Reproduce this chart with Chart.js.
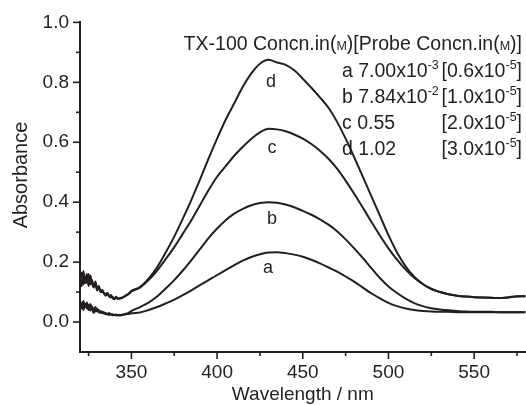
<!DOCTYPE html>
<html>
<head>
<meta charset="utf-8">
<script src="https://cdn.jsdelivr.net/npm/chart.js@4.4.1/dist/chart.umd.min.js"></script>
<style>
body { margin: 0; background: #fff; }
</style>
</head>
<body>
<canvas id="spectra" width="526" height="405"></canvas>
<script>
// wavelength grid (nm): 1 nm steps in the noisy region, then 5 nm
var wavelengths = [320,321,322,323,324,325,326,327,328,329,330,331,332,333,334,335,336,337,338,339,340,
	341,342,343,344,345,346,347,348,349,350,
	355,360,365,370,375,380,385,390,395,400,405,410,415,420,425,430,435,440,445,450,
	455,460,465,470,475,480,485,490,495,500,505,510,515,520,525,530,535,540,545,550,
	555,560,565,570,575,580];

// absorbance
var absA = [0.05,0.065,0.04,0.06,0.045,0.058,0.038,0.052,0.04,0.035,0.045,0.032,0.036,0.03,0.033,0.026,0.028,0.024,0.027,0.023,0.024,
	0.022,0.024,0.022,0.023,0.024,0.025,0.026,0.027,0.028,0.029,
	0.032,0.04,0.05,0.062,0.075,0.09,0.106,0.123,0.14,0.157,0.173,0.19,0.205,0.217,0.226,0.232,0.233,0.23,0.225,0.218,
	0.208,0.196,0.182,0.168,0.152,0.135,0.115,0.096,0.079,0.064,0.053,0.045,0.04,0.037,0.035,0.034,0.034,0.033,0.033,0.033,
	0.033,0.033,0.033,0.033,0.033,0.033];
var absB = [0.06,0.045,0.07,0.05,0.065,0.04,0.06,0.045,0.03,0.05,0.035,0.04,0.03,0.035,0.028,0.03,0.025,0.03,0.024,0.026,0.023,
	0.025,0.022,0.024,0.023,0.025,0.026,0.028,0.03,0.033,0.037,
	0.05,0.065,0.085,0.112,0.14,0.172,0.207,0.243,0.28,0.312,0.34,0.362,0.378,0.39,0.397,0.4,0.398,0.392,0.383,0.371,
	0.358,0.343,0.325,0.303,0.276,0.246,0.214,0.18,0.147,0.119,0.097,0.078,0.063,0.053,0.046,0.042,0.039,0.037,0.035,0.034,
	0.034,0.034,0.033,0.033,0.033,0.033];
var absC = [0.14,0.165,0.125,0.15,0.13,0.16,0.125,0.14,0.12,0.125,0.105,0.115,0.103,0.1,0.098,0.088,0.093,0.087,0.082,0.084,0.078,
	0.08,0.077,0.08,0.079,0.083,0.085,0.089,0.092,0.097,0.102,
	0.115,0.14,0.172,0.21,0.25,0.295,0.34,0.39,0.44,0.485,0.52,0.555,0.585,0.612,0.633,0.645,0.643,0.637,0.626,0.612,
	0.594,0.572,0.545,0.512,0.472,0.428,0.382,0.335,0.289,0.246,0.208,0.175,0.148,0.127,0.111,0.1,0.093,0.088,0.085,0.083,
	0.082,0.081,0.08,0.082,0.085,0.086];
var absD = [0.15,0.12,0.17,0.13,0.16,0.12,0.155,0.13,0.115,0.135,0.11,0.12,0.1,0.108,0.095,0.092,0.098,0.085,0.09,0.08,0.076,
	0.084,0.079,0.078,0.081,0.082,0.086,0.09,0.093,0.098,0.104,
	0.117,0.145,0.183,0.232,0.285,0.345,0.408,0.475,0.545,0.612,0.675,0.73,0.785,0.83,0.862,0.875,0.866,0.858,0.84,0.812,
	0.782,0.75,0.715,0.668,0.612,0.55,0.485,0.42,0.355,0.29,0.232,0.186,0.151,0.127,0.11,0.1,0.093,0.088,0.085,0.083,
	0.082,0.081,0.08,0.083,0.086,0.086];

var curveNames = ["a", "b", "c", "d"];
var curveLabelX = [429.7, 432, 432, 431.4];
var curveLabelY = [0.18, 0.345, 0.58, 0.80];

// legend: TX-100 concentration and probe concentration, exponent kept apart for superscript
var tx100Conc = [["7.00x10", "-3"], ["7.84x10", "-2"], ["0.55", ""], ["1.02", ""]];
var probeConc = [["0.6x10", "-5"], ["1.0x10", "-5"], ["2.0x10", "-5"], ["3.0x10", "-5"]];

var xTicks = [325,350,375,400,425,450,475,500,525,550,575];
var yTicks = [0,0.1,0.2,0.3,0.4,0.5,0.6,0.7,0.8,0.9,1.0];

var FONT = "'Liberation Sans', Arial, sans-serif";
var INK = "#231f20";

function drawRich(ctx, parts, x, y, align) {
	// parts: [text, kind] kind "" normal, "sup" superscript, "sc" small caps
	let w = 0;
	for (let p of parts) {
		ctx.font = (p[1] == "" ? "19.5px " : "12.5px ") + FONT;
		w += ctx.measureText(p[0]).width;
	}
	let cx = align == "right" ? x - w : x;
	for (let p of parts) {
		ctx.font = (p[1] == "" ? "19.5px " : "12.5px ") + FONT;
		let dy = p[1] == "sup" ? -8 : 0;
		ctx.fillText(p[0], cx, y + dy);
		cx += ctx.measureText(p[0]).width;
	}
}

var decor = {
	id: "decor",
	afterDraw(chart) {
		const ctx = chart.ctx;
		const xs = chart.scales.x, ys = chart.scales.y;
		ctx.save();
		ctx.strokeStyle = INK;
		ctx.fillStyle = INK;
		ctx.lineWidth = 1.6;
		// tick marks, long for labelled ones
		for (let v of xTicks) {
			let px = xs.getPixelForValue(v);
			let len = v % 50 == 0 ? 7 : 4;
			ctx.beginPath();
			ctx.moveTo(px, ys.bottom);
			ctx.lineTo(px, ys.bottom + len);
			ctx.stroke();
		}
		for (let v of yTicks) {
			let py = ys.getPixelForValue(v);
			let len = Math.round(v * 10) % 2 == 0 ? 7 : 4;
			ctx.beginPath();
			ctx.moveTo(xs.left, py);
			ctx.lineTo(xs.left - len, py);
			ctx.stroke();
		}
		// y title
		ctx.save();
		ctx.font = "20px " + FONT;
		ctx.textAlign = "center";
		ctx.textBaseline = "middle";
		ctx.translate(21, 175);
		ctx.rotate(-Math.PI / 2);
		ctx.fillText("Absorbance", 0, 0);
		ctx.restore();
		// curve letters
		ctx.font = "18px " + FONT;
		ctx.textAlign = "center";
		ctx.textBaseline = "middle";
		for (let i in curveNames) {
			ctx.fillText(curveNames[i], xs.getPixelForValue(curveLabelX[i]), ys.getPixelForValue(curveLabelY[i]));
		}
		// legend block
		ctx.textAlign = "left";
		ctx.textBaseline = "alphabetic";
		drawRich(ctx, [["TX-100 Concn.in(", ""], ["M", "sc"], [")[Probe Concn.in(", ""], ["M", "sc"], [")]", ""]], 522, 50, "right");
		for (let i in curveNames) {
			let y = 77 + i * 26;
			drawRich(ctx, [[curveNames[i] + " " + tx100Conc[i][0], ""], [tx100Conc[i][1], "sup"]], 342, y, "left");
			drawRich(ctx, [["[" + probeConc[i][0], ""], [probeConc[i][1], "sup"], ["]", ""]], 522, y, "right");
		}
		ctx.restore();
	}
};

function makeSet(vals) {
	let pts = [];
	for (let i in wavelengths) {
		pts.push({x: wavelengths[i], y: vals[i]});
	}
	return {
		data: pts,
		borderColor: INK,
		borderWidth: 2,
		pointRadius: 0,
		fill: false,
		cubicInterpolationMode: "monotone"
	};
}

Chart.defaults.font.family = FONT;
Chart.defaults.font.size = 19;
Chart.defaults.color = INK;

var config = {
	type: "line",
	data: {
		datasets: [makeSet(absA), makeSet(absB), makeSet(absC), makeSet(absD)]
	},
	options: {
		responsive: false,
		animation: false,
		devicePixelRatio: 1,
		layout: {padding: {top: 22, right: 0, left: 0, bottom: 0}},
		plugins: {
			legend: false,
			tooltip: {enabled: false}
		},
		scales: {
			x: {
				type: "linear",
				min: 320,
				max: 580,
				afterBuildTicks: function(scale) {
					scale.ticks = xTicks.map(v => ({value: v}));
				},
				afterFit: function(scale) { scale.height = 53; },
				ticks: {
					autoSkip: false,
					maxRotation: 0,
					padding: 9,
					callback: v => (v % 50 == 0 ? String(v) : "")
				},
				grid: {display: false, drawTicks: false},
				border: {display: true, color: INK, width: 2},
				title: {
					display: true,
					text: "Wavelength / nm",
					padding: {top: 0, bottom: -1},
					font: {size: 19}
				}
			},
			y: {
				type: "linear",
				min: -0.1,
				max: 1.0,
				afterBuildTicks: function(scale) {
					scale.ticks = yTicks.map(v => ({value: v}));
				},
				afterFit: function(scale) { scale.width = 80; },
				ticks: {
					autoSkip: false,
					padding: 11,
					callback: v => (Math.round(v * 10) % 2 == 0 ? v.toFixed(1) : "")
				},
				grid: {display: false, drawTicks: false},
				border: {display: true, color: INK, width: 2}
			}
		}
	},
	plugins: [decor]
};

var chart = new Chart("spectra", config);
</script>
</body>
</html>
